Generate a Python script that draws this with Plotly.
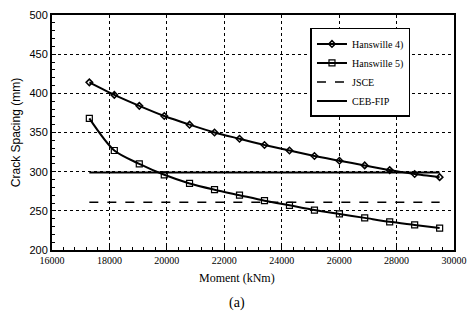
import plotly.graph_objects as go

moment = [17300, 18170, 19040, 19910, 20790, 21660, 22530, 23400, 24270, 25140, 26010, 26890, 27760, 28630, 29500]
hanswille4 = [414, 398, 384, 371, 360, 350, 342, 334, 327, 320, 314, 308, 302, 297, 293]
hanswille5 = [368, 327, 310, 296, 285, 277, 270, 263, 257, 251, 246, 241, 236, 232, 228]
jsce_x = [17300, 29500]
jsce_y = [261, 261]
ceb_x = [17300, 29500]
ceb_y = [299, 299]

serif = "Liberation Serif"
sans = "Liberation Sans"

fig = go.Figure()
fig.add_trace(go.Scatter(x=moment, y=hanswille4, name="Hanswille 4)", mode="lines+markers",
                         line=dict(color="black", width=2, shape="spline", smoothing=0.6),
                         marker=dict(symbol="diamond-open", size=5, color="black", line=dict(width=1.5))))
fig.add_trace(go.Scatter(x=moment, y=hanswille5, name="Hanswille 5)", mode="lines+markers",
                         line=dict(color="black", width=2, shape="spline", smoothing=0.8),
                         marker=dict(symbol="square-open", size=6, color="black", line=dict(width=1.2))))
fig.add_trace(go.Scatter(x=jsce_x, y=jsce_y, name="JSCE", mode="lines",
                         line=dict(color="black", width=1.6, dash="dash")))
fig.add_trace(go.Scatter(x=ceb_x, y=ceb_y, name="CEB-FIP", mode="lines",
                         line=dict(color="black", width=2)))

fig.update_layout(
    width=470, height=322,
    margin=dict(l=52, r=16, t=15, b=72),
    paper_bgcolor="white", plot_bgcolor="white",
    showlegend=True,
    legend=dict(x=0.643, y=0.945, xanchor="left", yanchor="top",
                bgcolor="white", bordercolor="black", borderwidth=1.5,
                font=dict(family=serif, size=10, color="black"),
                tracegroupgap=0, itemwidth=30),
    annotations=[
        dict(text="Moment (kNm)", x=(237 - 52) / 402, y=(250 - 287) / 235, xref="paper", yref="paper",
             showarrow=False, font=dict(family=serif, size=12, color="black")),
        dict(text="(a)", x=(237 - 52) / 402, y=(250 - 313) / 235, xref="paper", yref="paper",
             showarrow=False, font=dict(family=serif, size=14, color="black")),
    ],
)

fig.update_xaxes(range=[16000, 30000], dtick=2000, tickformat="d", automargin=False,
                 showgrid=True, gridcolor="black", griddash="dot", gridwidth=1,
                 showline=True, linecolor="black", linewidth=2, mirror=True,
                 ticks="inside", ticklen=4, tickcolor="black",
                 minor=dict(dtick=400, ticks="inside", ticklen=3, tickcolor="black", showgrid=False),
                 tickfont=dict(family=serif, size=10, color="black"), zeroline=False)
fig.update_yaxes(range=[200, 500], dtick=50, automargin=False,
                 showgrid=True, gridcolor="black", griddash="dot", gridwidth=1,
                 showline=True, linecolor="black", linewidth=2, mirror=True,
                 ticks="inside", ticklen=4, tickcolor="black",
                 minor=dict(dtick=10, ticks="inside", ticklen=3, tickcolor="black", showgrid=False),
                 tickfont=dict(family=sans, size=11, color="black"), zeroline=False,
                 title=dict(text="Crack Spacing (mm)", font=dict(family=sans, size=12, color="black"), standoff=6))

fig.write_html("out.html", config={"displayModeBar": False},
               post_script="document.body.style.margin='0px';")
